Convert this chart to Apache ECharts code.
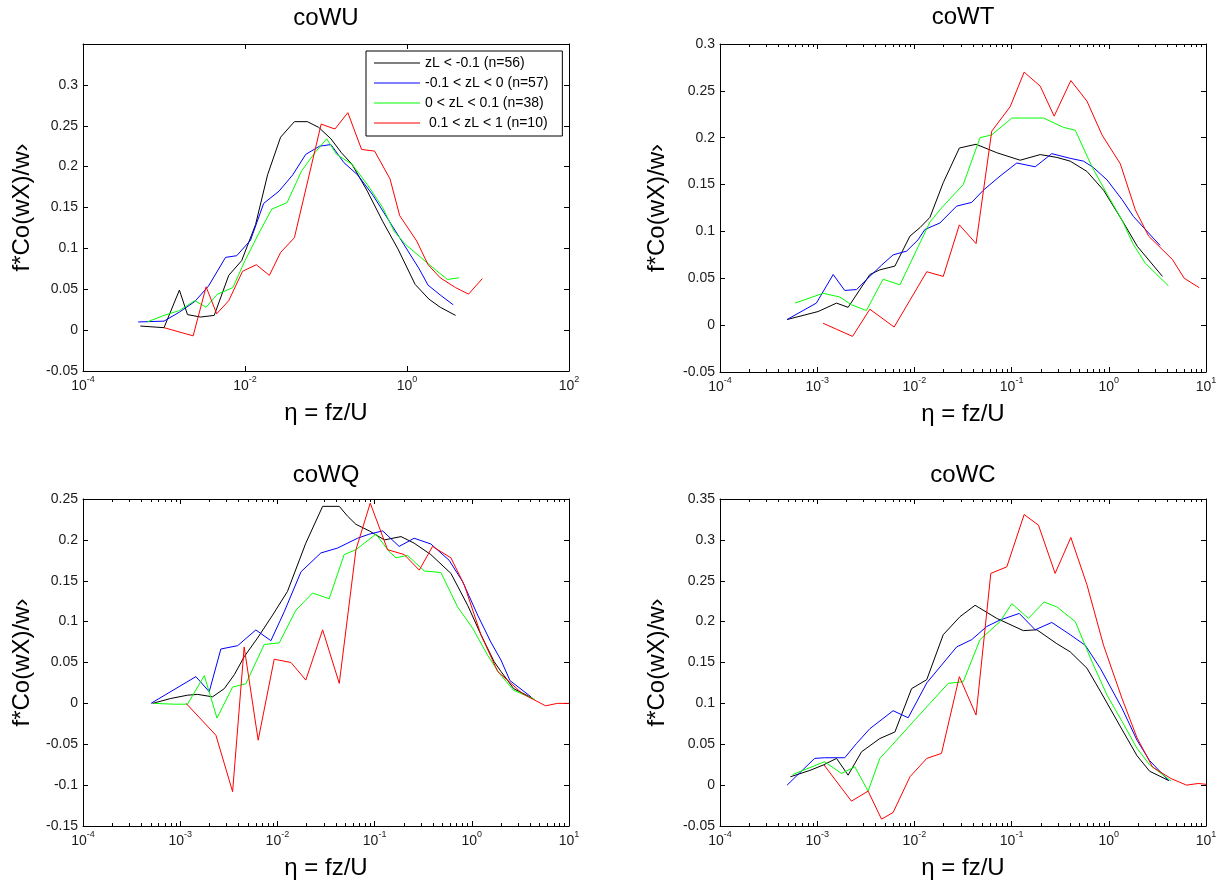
<!DOCTYPE html>
<html>
<head>
<meta charset="utf-8">
<script src="https://cdn.jsdelivr.net/npm/echarts@6/dist/echarts.min.js"></script>
<style>html,body{margin:0;padding:0;background:#fff}#c{width:1222px;height:890px}</style>
</head>
<body>
<div id="c"></div>
<script>
// ---------- legend / series names ----------
const seriesNames = ['zL < -0.1 (n=56)', '-0.1 < zL < 0 (n=57)', '0 < zL < 0.1 (n=38)', ' 0.1 < zL < 1 (n=10)'];
const seriesColors = ['#000000', '#0000ff', '#00ff00', '#ff0000'];
const panelTitles = ['coWU', 'coWT', 'coWQ', 'coWC'];
const xAxisTitle = 'η = fz/U';
const yAxisTitle = 'f*Co(wX)/w›';

// ---------- coWU ----------
const wuX1 = [0.00051, 0.001, 0.00155, 0.00195, 0.00282, 0.00417, 0.0063, 0.0091, 0.0135, 0.019, 0.0275, 0.0407, 0.0589, 0.0813, 0.115, 0.155, 0.209, 0.324, 0.501, 0.776, 1.259, 1.862, 2.57, 3.98];
const wuY1 = [0.005, 0.003, 0.049, 0.019, 0.016, 0.018, 0.067, 0.085, 0.129, 0.19, 0.236, 0.255, 0.255, 0.248, 0.234, 0.217, 0.203, 0.17, 0.133, 0.099, 0.056, 0.038, 0.028, 0.018];
const wuX2 = [0.00048, 0.001, 0.00155, 0.0024, 0.00355, 0.00575, 0.0079, 0.0117, 0.017, 0.0263, 0.0389, 0.0562, 0.0832, 0.115, 0.166, 0.245, 0.38, 0.589, 0.912, 1.413, 1.82, 2.57, 3.72];
const wuY2 = [0.010, 0.011, 0.022, 0.035, 0.054, 0.089, 0.091, 0.11, 0.155, 0.17, 0.19, 0.215, 0.225, 0.227, 0.205, 0.19, 0.165, 0.135, 0.105, 0.075, 0.055, 0.043, 0.031];
const wuX3 = [0.00062, 0.001, 0.00155, 0.0024, 0.00331, 0.00457, 0.00708, 0.01, 0.0151, 0.0214, 0.0331, 0.0501, 0.0741, 0.102, 0.135, 0.209, 0.324, 0.501, 0.692, 0.955, 1.479, 2.29, 3.16, 4.37];
const wuY3 = [0.01, 0.018, 0.024, 0.036, 0.028, 0.044, 0.052, 0.085, 0.12, 0.148, 0.156, 0.195, 0.218, 0.234, 0.215, 0.203, 0.178, 0.15, 0.121, 0.105, 0.089, 0.073, 0.062, 0.064];
const wuX4 = [0.001, 0.00229, 0.00331, 0.00447, 0.0063, 0.00933, 0.0138, 0.02, 0.0275, 0.0407, 0.0871, 0.129, 0.186, 0.275, 0.398, 0.617, 0.813, 1.318, 1.82, 2.57, 3.98, 5.75, 8.51];
const wuY4 = [0.003, -0.007, 0.053, 0.02, 0.036, 0.072, 0.08, 0.067, 0.095, 0.113, 0.252, 0.246, 0.266, 0.221, 0.219, 0.185, 0.14, 0.109, 0.08, 0.064, 0.052, 0.044, 0.063];

// ---------- coWT ----------
const wtX1 = [0.00049, 0.00102, 0.00158, 0.00208, 0.00348, 0.00441, 0.0063, 0.009, 0.0114, 0.01445, 0.0198, 0.029, 0.0431, 0.0703, 0.1225, 0.197, 0.292, 0.401, 0.596, 0.883, 1.368, 1.968, 3.565];
const wtY1 = [0.006, 0.0145, 0.0235, 0.019, 0.054, 0.059, 0.063, 0.095, 0.104, 0.115, 0.152, 0.189, 0.193, 0.184, 0.176, 0.182, 0.179, 0.175, 0.164, 0.144, 0.112, 0.084, 0.052];
const wtX2 = [0.00049, 0.00098, 0.00146, 0.00192, 0.00254, 0.00348, 0.00459, 0.00604, 0.00832, 0.0109, 0.0128, 0.0183, 0.0272, 0.0389, 0.0512, 0.076, 0.113, 0.175, 0.259, 0.401, 0.55, 0.697, 0.959, 1.368, 1.79, 3.37];
const wtY2 = [0.006, 0.0235, 0.054, 0.037, 0.038, 0.052, 0.064, 0.075, 0.079, 0.091, 0.102, 0.109, 0.127, 0.131, 0.144, 0.159, 0.173, 0.169, 0.183, 0.178, 0.175, 0.168, 0.155, 0.134, 0.116, 0.085];
const wtX3 = [0.00059, 0.00115, 0.00171, 0.00225, 0.00321, 0.00476, 0.0071, 0.01445, 0.019, 0.0318, 0.0473, 0.0625, 0.1005, 0.213, 0.342, 0.452, 0.671, 0.995, 1.368, 1.79, 2.377, 4.1];
const wtY3 = [0.0235, 0.034, 0.030, 0.0217, 0.0156, 0.049, 0.043, 0.110, 0.125, 0.150, 0.20, 0.203, 0.221, 0.221, 0.211, 0.208, 0.169, 0.137, 0.112, 0.086, 0.066, 0.042];
const wtX4 = [0.00115, 0.00231, 0.00348, 0.00619, 0.0134, 0.0198, 0.029, 0.0431, 0.0625, 0.0966, 0.1346, 0.197, 0.274, 0.407, 0.596, 0.851, 1.315, 1.875, 2.57, 4.52, 5.97, 8.51];
const wtY4 = [0.002, -0.012, 0.017, -0.002, 0.057, 0.052, 0.107, 0.087, 0.207, 0.233, 0.27, 0.255, 0.223, 0.261, 0.239, 0.203, 0.172, 0.123, 0.095, 0.07, 0.05, 0.04];

// ---------- coWQ ----------
const wqX1 = [0.00052, 0.0008, 0.00119, 0.00151, 0.00215, 0.00284, 0.0036, 0.00455, 0.00625, 0.00893, 0.0127, 0.0196, 0.0292, 0.0433, 0.0527, 0.0643, 0.0881, 0.126, 0.187, 0.255, 0.379, 0.61, 0.906, 1.242, 1.698, 1.995, 2.70, 4.25];
const wqY1 = [0, 0.006, 0.010, 0.011, 0.008, 0.018, 0.035, 0.057, 0.080, 0.108, 0.137, 0.196, 0.241, 0.241, 0.229, 0.219, 0.211, 0.200, 0.204, 0.196, 0.182, 0.159, 0.120, 0.084, 0.051, 0.039, 0.018, 0.006];
const wqX2 = [0.0005, 0.00145, 0.00199, 0.00262, 0.0039, 0.006, 0.00857, 0.01175, 0.0175, 0.028, 0.0416, 0.0668, 0.0881, 0.121, 0.179, 0.255, 0.379, 0.585, 0.804, 1.148, 1.57, 1.995, 2.466, 4.055];
const wqY2 = [0.0, 0.0327, 0.0143, 0.0665, 0.0706, 0.0898, 0.0767, 0.112, 0.161, 0.184, 0.190, 0.202, 0.207, 0.211, 0.192, 0.202, 0.195, 0.175, 0.149, 0.108, 0.075, 0.053, 0.028, 0.008];
const wqX3 = [0.00054, 0.00087, 0.00119, 0.00177, 0.00239, 0.00346, 0.00474, 0.00731, 0.01045, 0.0155, 0.023, 0.0341, 0.0486, 0.0643, 0.103, 0.141, 0.166, 0.218, 0.324, 0.481, 0.714, 1.019, 1.452, 1.914, 2.69, 4.45];
const wqY3 = [0.0, -0.001, -0.001, 0.034, -0.018, 0.020, 0.024, 0.072, 0.074, 0.114, 0.135, 0.128, 0.182, 0.188, 0.207, 0.186, 0.178, 0.181, 0.162, 0.160, 0.118, 0.092, 0.059, 0.037, 0.016, 0.005];
const wqX4 = [0.00115, 0.00233, 0.00346, 0.00455, 0.00634, 0.00927, 0.0138, 0.0196, 0.0292, 0.0433, 0.0643, 0.0902, 0.136, 0.202, 0.288, 0.395, 0.61, 0.836, 1.242, 1.845, 2.51, 3.31, 4.27, 5.75, 7.59, 10];
const wqY4 = [0.0, -0.039, -0.108, 0.069, -0.045, 0.054, 0.050, 0.0285, 0.090, 0.0245, 0.188, 0.245, 0.188, 0.182, 0.163, 0.192, 0.178, 0.145, 0.084, 0.039, 0.025, 0.012, 0.005, -0.003, 0.0, 0.0];

// ---------- coWC ----------
const wcX1 = [0.00053, 0.00084, 0.00115, 0.00158, 0.00208, 0.00286, 0.00441, 0.0063, 0.00935, 0.0134, 0.0198, 0.0294, 0.0421, 0.0703, 0.132, 0.182, 0.292, 0.401, 0.596, 0.817, 1.368, 1.95, 2.63, 4.07];
const wcY1 = [0.0102, 0.018, 0.0245, 0.0327, 0.0122, 0.0408, 0.057, 0.065, 0.118, 0.129, 0.184, 0.206, 0.220, 0.204, 0.189, 0.190, 0.173, 0.163, 0.143, 0.115, 0.068, 0.036, 0.017, 0.006];
const wcX2 = [0.00049, 0.00094, 0.00119, 0.00192, 0.00254, 0.00348, 0.00604, 0.00863, 0.0134, 0.0272, 0.0389, 0.0555, 0.076, 0.12, 0.175, 0.259, 0.401, 0.573, 0.817, 1.368, 1.95, 2.63, 4.17];
const wcY2 = [0.0, 0.0327, 0.0335, 0.0335, 0.051, 0.069, 0.091, 0.0824, 0.125, 0.169, 0.178, 0.194, 0.202, 0.210, 0.190, 0.199, 0.184, 0.171, 0.143, 0.094, 0.055, 0.03, 0.005];
const wcX3 = [0.00056, 0.00119, 0.00178, 0.00244, 0.00334, 0.00441, 0.00656, 0.00973, 0.01445, 0.0223, 0.0318, 0.0473, 0.076, 0.1005, 0.149, 0.216, 0.292, 0.452, 0.671, 0.959, 1.368, 1.95, 2.63, 4.37];
const wcY3 = [0.013, 0.0286, 0.0143, 0.0224, -0.0073, 0.0327, 0.055, 0.0776, 0.10, 0.1245, 0.1265, 0.178, 0.2, 0.222, 0.204, 0.224, 0.218, 0.2, 0.151, 0.110, 0.078, 0.045, 0.025, 0.005];
const wcX4 = [0.00117, 0.00225, 0.00334, 0.00459, 0.00604, 0.009, 0.0134, 0.019, 0.029, 0.0431, 0.0611, 0.0893, 0.1346, 0.189, 0.2805, 0.407, 0.596, 0.883, 1.368, 1.95, 2.82, 4.37, 6.31, 8.32, 10];
const wcY4 = [0.025, -0.0196, -0.0073, -0.0416, -0.0335, 0.0102, 0.0327, 0.0388, 0.1327, 0.0857, 0.259, 0.267, 0.331, 0.318, 0.259, 0.303, 0.245, 0.171, 0.106, 0.058, 0.022, 0.008, 0.0, 0.002, 0.001];

// ---------- layout ----------
const FONT = '"Liberation Sans", Arial, sans-serif';
const panels = [
  { xs: [wuX1, wuX2, wuX3, wuX4], ys: [wuY1, wuY2, wuY3, wuY4], grid: { left: 83, top: 44, width: 486, height: 327 },
    xMin: 1e-4, xMax: 100, logBase: 100, yMin: -0.05, yMax: 0.35, showMaxY: false, minor: false, titleX: 326, titleY: 6, yGap: 49 },
  { xs: [wtX1, wtX2, wtX3, wtX4], ys: [wtY1, wtY2, wtY3, wtY4], grid: { left: 720, top: 44, width: 486, height: 328 },
    xMin: 1e-4, xMax: 10, logBase: 10, yMin: -0.05, yMax: 0.3, showMaxY: true, minor: true, titleX: 963, titleY: 5, yGap: 51 },
  { xs: [wqX1, wqX2, wqX3, wqX4], ys: [wqY1, wqY2, wqY3, wqY4], grid: { left: 83, top: 499, width: 486, height: 327 },
    xMin: 1e-4, xMax: 10, logBase: 10, yMin: -0.15, yMax: 0.25, showMaxY: true, minor: true, titleX: 326, titleY: 463, yGap: 49 },
  { xs: [wcX1, wcX2, wcX3, wcX4], ys: [wcY1, wcY2, wcY3, wcY4], grid: { left: 720, top: 499, width: 486, height: 327 },
    xMin: 1e-4, xMax: 10, logBase: 10, yMin: -0.05, yMax: 0.35, showMaxY: true, minor: true, titleX: 963, titleY: 463, yGap: 51 }
];

// minor tick positions (log10 space) for the 10^-4 .. 10^1 axes
const minorTickLogs = [];
for (let d = -4; d < 1; d++) {
  for (let m = 2; m <= 9; m++) minorTickLogs.push(d + Math.log10(m));
}

const LABEL_COLOR = '#1a1a1a';
const lineStyleBlack = { color: '#000', width: 1 };

function powLabel(v) {
  const e = Math.round(Math.log10(v));
  return '{b|10}{e|' + e + '}';
}

const grids = [], xAxes = [], yAxes = [], series = [], titles = [];

panels.forEach((p, i) => {
  grids.push(Object.assign({ containLabel: false, outerBoundsMode: 'none' }, p.grid));
  titles.push({
    text: panelTitles[i], left: p.titleX, top: p.titleY, textAlign: 'center', textVerticalAlign: 'top', padding: 0,
    textStyle: { fontSize: 24, fontWeight: 'normal', color: '#000', fontFamily: FONT }
  });

  const xMain = xAxes.length;
  xAxes.push({
    type: 'log', logBase: p.logBase, gridIndex: i, min: p.xMin, max: p.xMax, position: 'bottom',
    axisLine: { show: true, onZero: false, lineStyle: lineStyleBlack },
    axisTick: { show: true, inside: true, length: 5, lineStyle: lineStyleBlack },
    axisLabel: {
      show: true, margin: 4, formatter: powLabel,
      rich: {
        b: { fontSize: 14, fontFamily: FONT, color: LABEL_COLOR, padding: [4, 0, 0, 0], verticalAlign: 'bottom' },
        e: { fontSize: 9, fontFamily: FONT, color: LABEL_COLOR, verticalAlign: 'top' }
      }
    },
    splitLine: { show: false }, minorTick: { show: false }, minorSplitLine: { show: false },
    name: xAxisTitle, nameLocation: 'middle', nameGap: 30,
    nameTextStyle: { fontSize: 24, color: '#000', fontFamily: FONT }
  });
  xAxes.push({
    type: 'log', logBase: p.logBase, gridIndex: i, min: p.xMin, max: p.xMax, position: 'top',
    axisLine: { show: true, onZero: false, lineStyle: lineStyleBlack },
    axisTick: { show: true, inside: true, length: 5, lineStyle: lineStyleBlack },
    axisLabel: { show: false }, splitLine: { show: false }
  });
  if (p.minor) {
    ['bottom', 'top'].forEach(pos => {
      xAxes.push({
        type: 'value', gridIndex: i, min: -4, max: 1, position: pos,
        axisLine: { show: false, onZero: false },
        axisTick: { show: true, inside: true, length: 3, lineStyle: lineStyleBlack, customValues: minorTickLogs },
        axisLabel: { show: false }, splitLine: { show: false }
      });
    });
  }

  const yMain = yAxes.length;
  yAxes.push({
    type: 'value', gridIndex: i, min: p.yMin, max: p.yMax, interval: 0.05, position: 'left',
    axisLine: { show: true, onZero: false, lineStyle: lineStyleBlack },
    axisTick: { show: true, inside: true, length: 5, lineStyle: lineStyleBlack },
    axisLabel: { show: true, margin: 5, fontSize: 14, fontFamily: FONT, color: LABEL_COLOR, showMaxLabel: p.showMaxY, showMinLabel: true },
    splitLine: { show: false },
    name: yAxisTitle, nameLocation: 'middle', nameRotate: 90, nameGap: p.yGap,
    nameTextStyle: { fontSize: 24, color: '#000', fontFamily: FONT }
  });
  yAxes.push({
    type: 'value', gridIndex: i, min: p.yMin, max: p.yMax, interval: 0.05, position: 'right',
    axisLine: { show: true, onZero: false, lineStyle: lineStyleBlack },
    axisTick: { show: true, inside: true, length: 5, lineStyle: lineStyleBlack },
    axisLabel: { show: false }, splitLine: { show: false }
  });

  for (let g = 0; g < 4; g++) {
    const xs = p.xs[g], ys = p.ys[g];
    series.push({
      type: 'line', name: seriesNames[g], xAxisIndex: xMain, yAxisIndex: yMain,
      data: xs.map((x, k) => [x, ys[k]]),
      showSymbol: false, symbol: 'none', smooth: false, silent: true, animation: false,
      lineStyle: { color: seriesColors[g], width: 1 }, itemStyle: { color: seriesColors[g] },
      emphasis: { disabled: true }
    });
  }
});

const option = {
  backgroundColor: '#ffffff',
  animation: false,
  textStyle: { fontFamily: FONT },
  title: titles,
  legend: {
    show: true, data: seriesNames, orient: 'vertical', left: 366, top: 51,
    icon: 'rect', itemWidth: 46, itemHeight: 1, itemGap: 6,
    padding: [5, 14, 6, 8], borderColor: '#000', borderWidth: 1, borderRadius: 0, backgroundColor: '#fff',
    selectedMode: false,
    textStyle: { fontSize: 14, color: '#000', fontFamily: FONT, lineHeight: 14 }
  },
  grid: grids,
  xAxis: xAxes,
  yAxis: yAxes,
  series: series
};

const chart = echarts.init(document.getElementById('c'), null, { renderer: 'canvas', width: 1222, height: 890 });
chart.setOption(option);
</script>
</body>
</html>
